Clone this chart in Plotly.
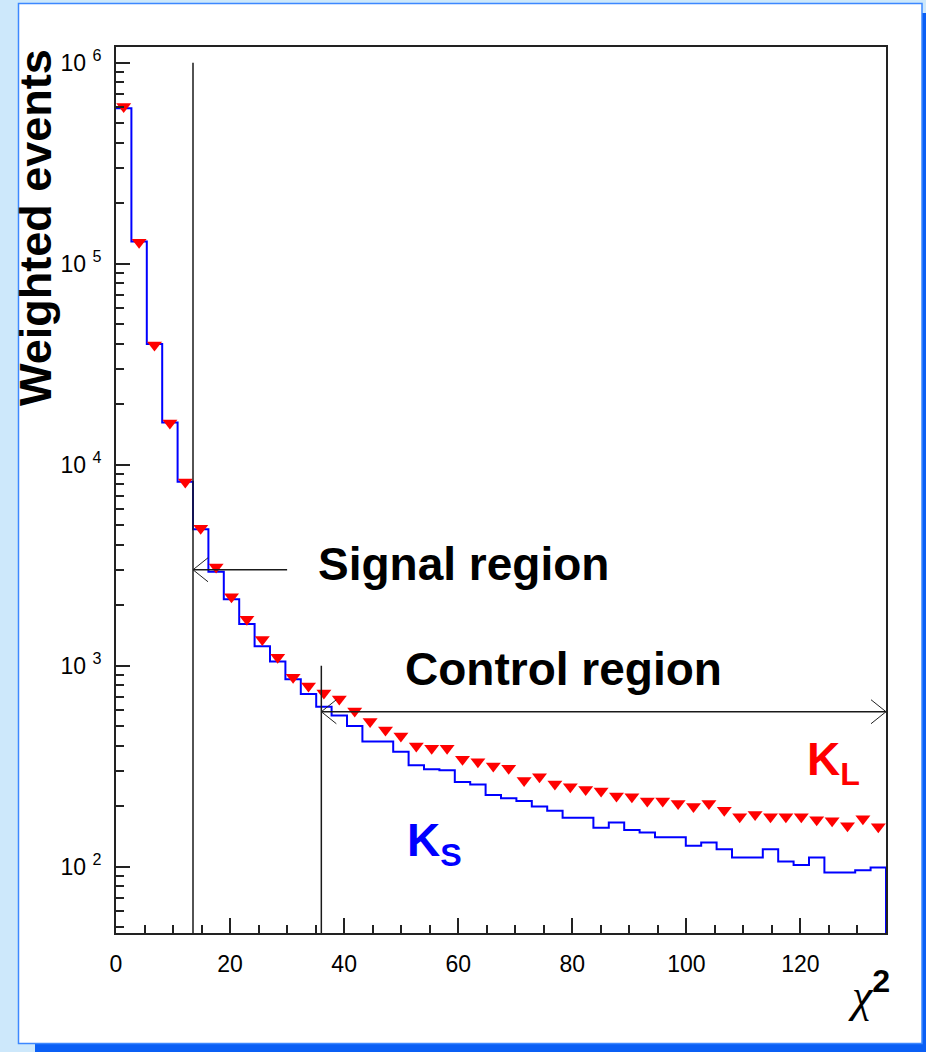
import numpy as np
import plotly.graph_objects as go

# ---------------- data ----------------
X_MIN, X_MAX = 0.0, 135.0
N_BINS = 50

# K_S (blue histogram) weighted events per chi2 bin
ks_counts = [593000, 129000, 39800, 16200, 8220, 4770, 2930, 2140, 1610, 1250,
             1050, 855, 723, 625, 565, 501, 419, 419, 373, 320,
             305, 302, 264, 256, 227, 219, 212, 199, 190, 175,
             175, 156, 166, 152, 148, 140, 140, 127, 132, 122,
             111, 111, 122, 106, 102, 111, 93.6, 93.6, 96, 99]

# K_L (red triangles) weighted events per chi2 bin
kl_counts = [605000, 128000, 39400, 16100, 8200, 4830, 3100, 2200, 1700, 1350,
             1100, 875, 792, 731, 682, 595, 527, 478, 447, 398,
             388, 388, 342, 333, 317, 309, 268, 280, 258, 250,
             242, 238, 225, 223, 212, 212, 206, 199, 206, 191,
             177, 182, 177, 177, 177, 171, 169, 160, 173, 158]

x_tick_vals = [0, 20, 40, 60, 80, 100, 120]
x_tick_text = ["0", "20", "40", "60", "80", "100", "120"]
y_tick_vals = [1e2, 1e3, 1e4, 1e5, 1e6]
y_exponents = ["2", "3", "4", "5", "6"]
y_tick_text = ["10\u00a0<sup>%s</sup>" % e for e in y_exponents]

signal_cut = 13.5
control_cut = 36.0
signal_line_top = 1e6
control_line_top = 1000
signal_arrow_y = 3000
signal_arrow_end = 30
control_arrow_y = 590

# ---------------- geometry ----------------
W, H = 926, 1052
L, R, T, B = 116, 886, 47, 933
Y_RANGE = [1.670, 6.078]


def px_x(p):
    return (p - L) / (R - L)


def px_y(p):
    return (B - p) / (B - T)


edges = np.linspace(X_MIN, X_MAX, N_BINS + 1)
centers = 0.5 * (edges[:-1] + edges[1:])
floor = 10 ** (Y_RANGE[0] - 0.5)

step_x = list(edges[:-1]) + [edges[-1], edges[-1]]
step_y = list(ks_counts) + [ks_counts[-1], floor]

fig = go.Figure()

fig.add_trace(go.Scatter(
    x=step_x, y=step_y, mode="lines", line=dict(color="#0000ff", width=2, shape="hv"),
    hoverinfo="skip", showlegend=False))

fig.add_trace(go.Scatter(
    x=centers, y=kl_counts, mode="markers",
    marker=dict(symbol="triangle-down", size=13, color="#ff0000", line=dict(width=0)),
    showlegend=False))

line_col = "#1a1a1a"
# cut lines
fig.add_trace(go.Scatter(x=[signal_cut, signal_cut], y=[floor, signal_line_top], mode="lines",
                         line=dict(color=line_col, width=1.5), showlegend=False, hoverinfo="skip"))
fig.add_trace(go.Scatter(x=[control_cut, control_cut], y=[floor, control_line_top], mode="lines",
                         line=dict(color=line_col, width=1.5), showlegend=False, hoverinfo="skip"))
# arrows
fig.add_trace(go.Scatter(x=[signal_cut, signal_arrow_end], y=[signal_arrow_y, signal_arrow_y], mode="lines",
                         line=dict(color=line_col, width=1.5), showlegend=False, hoverinfo="skip"))
fig.add_trace(go.Scatter(x=[control_cut, X_MAX], y=[control_arrow_y, control_arrow_y], mode="lines",
                         line=dict(color=line_col, width=1.5), showlegend=False, hoverinfo="skip"))


def chevron(x_tip, y_tip, direction):
    d = 1 if direction == "right" else -1
    return dict(type="path", xref="x", yref="y", xsizemode="pixel", ysizemode="pixel",
                xanchor=x_tip, yanchor=y_tip,
                path=f"M {-d*15},12 L 0,0 L {-d*15},-12",
                line=dict(color="#222222", width=1))


shapes = [
    # drop shadow and white panel
    dict(type="rect", xref="paper", yref="paper", layer="below",
         x0=px_x(35), x1=px_x(940), y0=px_y(1070), y1=px_y(13),
         fillcolor="#0a5ff5", line=dict(width=0)),
    dict(type="rect", xref="paper", yref="paper", layer="below",
         x0=px_x(18.5), x1=px_x(922), y0=px_y(1043.5), y1=px_y(3.5),
         fillcolor="#ffffff", line=dict(color="#3d88ff", width=1.5)),
    chevron(signal_cut, signal_arrow_y, "left"),
    chevron(control_cut, control_arrow_y, "left"),
    chevron(X_MAX, control_arrow_y, "right"),
]

bold = dict(family="Liberation Sans, Arial, sans-serif", size=46, color="#000000", weight="bold")
annotations = [
    dict(text="Weighted events", x=px_x(36), y=px_y(228), xref="paper", yref="paper",
         textangle=-90, showarrow=False, xanchor="center", yanchor="middle",
         font=dict(family="Liberation Sans, Arial, sans-serif", size=45, color="#000000", weight="bold")),
    dict(text="Signal region", x=px_x(316), y=px_y(564), xref="paper", yref="paper",
         showarrow=False, xanchor="left", yanchor="middle", font=bold),
    dict(text="Control region", x=px_x(403), y=px_y(669), xref="paper", yref="paper",
         showarrow=False, xanchor="left", yanchor="middle", font=bold),
    dict(text="K<sub>L</sub>", x=px_x(805), y=px_y(762), xref="paper", yref="paper",
         showarrow=False, xanchor="left", yanchor="middle",
         font=dict(family="Liberation Sans, Arial, sans-serif", size=46, color="#ff0000", weight="bold")),
    dict(text="K<sub>S</sub>", x=px_x(405), y=px_y(843), xref="paper", yref="paper",
         showarrow=False, xanchor="left", yanchor="middle",
         font=dict(family="Liberation Sans, Arial, sans-serif", size=46, color="#0000ff", weight="bold")),
    dict(text="<i>\u03c7</i><sup><span style='font-family:Liberation Sans;font-weight:bold'>2</span></sup>",
         x=px_x(892), y=px_y(992), xref="paper", yref="paper",
         showarrow=False, xanchor="right", yanchor="middle",
         font=dict(family="Liberation Serif, serif", size=46, color="#000000")),
]

tick_font = dict(family="Liberation Sans, Arial, sans-serif", size=23, color="#000000")
axis_common = dict(showline=True, linecolor="#222222", linewidth=2, mirror=True,
                   ticks="inside", tickcolor="#222222", tickwidth=1.5,
                   showgrid=False, zeroline=False, tickfont=tick_font)

minor_y = [k * 10 ** d for d in range(1, 7) for k in range(2, 10)]

fig.update_layout(
    width=W, height=H,
    margin=dict(l=L, r=W - R, t=T, b=H - B, pad=0),
    paper_bgcolor="#cde8fb", plot_bgcolor="#ffffff",
    shapes=shapes, annotations=annotations,
    xaxis=dict(range=[X_MIN, X_MAX], tickvals=x_tick_vals, ticktext=x_tick_text,
               ticklen=15, ticklabelstandoff=9,
               minor=dict(ticks="inside", dtick=5, tick0=0, ticklen=8, tickwidth=1.5,
                          tickcolor="#222222", showgrid=False),
               **axis_common),
    yaxis=dict(type="log", range=Y_RANGE, tickvals=y_tick_vals, ticktext=y_tick_text,
               ticklen=14, ticklabelstandoff=8,
               minor=dict(ticks="inside", tickvals=minor_y, ticklen=8, tickwidth=1.5,
                          tickcolor="#222222", showgrid=False),
               **axis_common),
    showlegend=False,
)

fig.write_html("out.html")
